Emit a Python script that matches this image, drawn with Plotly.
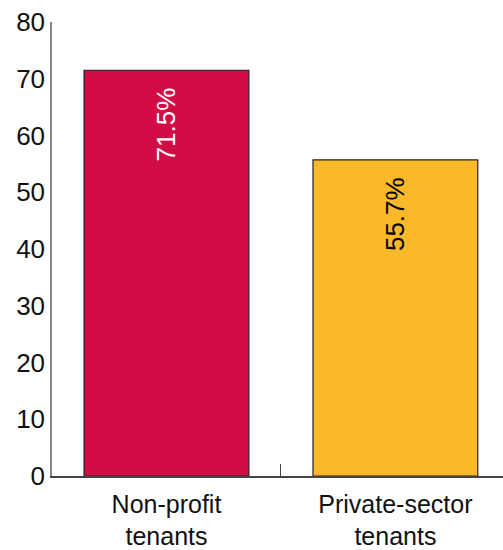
import plotly.graph_objects as go

# Data
categories = ["Non-profit<br>tenants", "Private-sector<br>tenants"]
values = [71.5, 55.7]
labels = ["71.5%", "55.7%"]
bar_colors = ["#D20C45", "#FBB829"]
text_colors = ["white", "black"]

pad = "\u00a0\u00a0"  # push the label a bit down from the bar top

fig = go.Figure()
fig.add_trace(go.Bar(
    x=categories, y=values,
    text=[t + pad for t in labels],
    textposition="inside",
    insidetextanchor="end",
    textangle=-90,
    textfont=dict(size=26, color=text_colors, family="Liberation Sans"),
    marker=dict(color=bar_colors, line=dict(color="#222222", width=1.2)),
    width=0.72,
))

fig.update_layout(
    width=503, height=550,
    margin=dict(l=52, r=0, t=22, b=70),
    plot_bgcolor="white", paper_bgcolor="white",
    font=dict(family="Liberation Sans", color="#111111"),
    showlegend=False,
    xaxis=dict(
        range=[-0.5, 1.47],
        showline=True, linecolor="#444444", linewidth=1.5,
        ticks="inside", tickson="boundaries", ticklen=12, tickcolor="#444444",
        tickfont=dict(size=25), ticklabelstandoff=5,
        showgrid=False,
    ),
    yaxis=dict(
        range=[0, 80], dtick=10,
        showline=True, linecolor="#888888", linewidth=1.5,
        ticks="", showgrid=False, zeroline=False,
        tickfont=dict(size=26), ticklabeloverflow="allow",
    ),
)

# drop the default page margin so the 503x550 figure fills the window
fig.write_html("out.html", config={"displayModeBar": False},
               post_script="document.body.style.margin = '0';")
